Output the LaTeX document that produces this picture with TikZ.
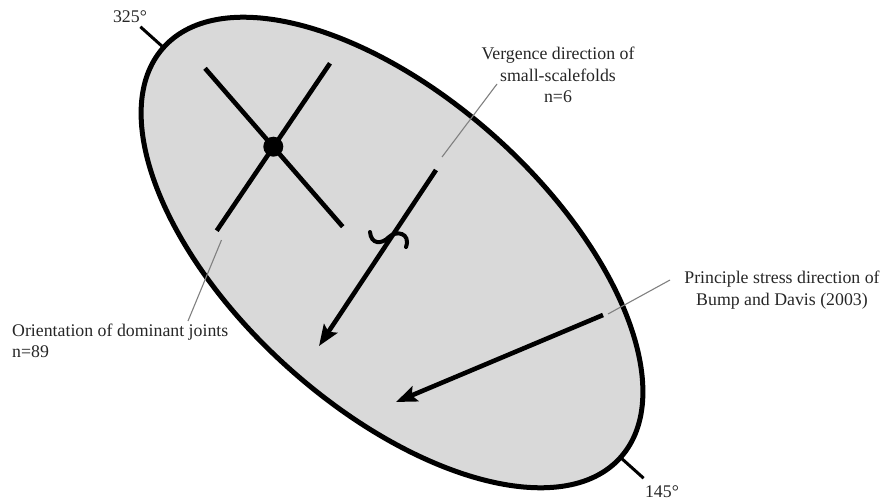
\documentclass[tikz,border=0pt]{standalone}
\usepackage{fontspec}
\setmainfont{Liberation Serif}
\usetikzlibrary{arrows.meta}
\begin{document}
\begin{tikzpicture}[x=1pt,y=-1pt,
  lbl/.style={font=\fontsize{17.8}{21.5}\selectfont, text=black!85, inner sep=0pt},
  bar/.style={line width=4.6pt},
  leader/.style={draw=black!50, line width=1.1pt},
  arr/.style={line width=4.6pt, -{Stealth[length=21pt,width=16pt,inset=4pt]}},
  tickline/.style={line width=3pt}]
\useasboundingbox (0,0) rectangle (889,501);
\coordinate (ec) at (392,252.5);
% axis ticks
\coordinate (t1i) at (168.7,52.2);
\coordinate (t1o) at (140.4,26.8);
\coordinate (t2i) at (615.3,452.8);
\coordinate (t2o) at (643.6,478.2);
\draw[tickline] (t1i) -- (t1o);
\draw[tickline] (t2i) -- (t2o);
% ellipse
\draw[fill=black!15, line width=5pt, rotate around={-41.9:(ec)}] (ec) ellipse (307 and 155);
% labels of ticks
\node[lbl] (l325) at (130,17) {325°};
\node[lbl] (l145) at (662,492) {145°};
% joints cross
\coordinate (j1a) at (205,68.3);
\coordinate (j1b) at (342.7,226.7);
\coordinate (j2a) at (330,63.3);
\coordinate (j2b) at (216.7,230.7);
\draw[bar] (j1a) -- (j1b);
\draw[bar] (j2a) -- (j2b);
\fill (273.3,146.7) circle (10);
% vergence arrow
\coordinate (v1) at (436,170);
\coordinate (v2) at (319,346);
\draw[arr] (v1) -- (v2);
\draw[line width=4pt, line cap=round] (370,232) .. controls (371,244) and (381,245) .. (389,237)
  .. controls (396,230) and (411,233) .. (406,247);
% stress arrow
\coordinate (s1) at (603,315);
\coordinate (s2) at (396,402);
\draw[arr] (s1) -- (s2);
% labels
\node[lbl, align=center] (vlab) at (558,75) {Vergence direction of\\small-scalefolds\\n=6};
\node[lbl, align=center] (slab) at (782,290) {Principle stress direction of\\Bump and Davis (2003)};
\node[lbl, align=left, anchor=west] (jlab) at (12,341) {Orientation of dominant joints\\n=89};
% leaders
\coordinate (vl1) at (442,157);
\coordinate (vl2) at (497,84);
\draw[leader] (vl1) -- (vl2);
\coordinate (sl1) at (608,314);
\coordinate (sl2) at (670,280);
\draw[leader] (sl1) -- (sl2);
\coordinate (jl1) at (221.5,240);
\coordinate (jl2) at (188,321);
\draw[leader] (jl1) -- (jl2);
\end{tikzpicture}
\end{document}
